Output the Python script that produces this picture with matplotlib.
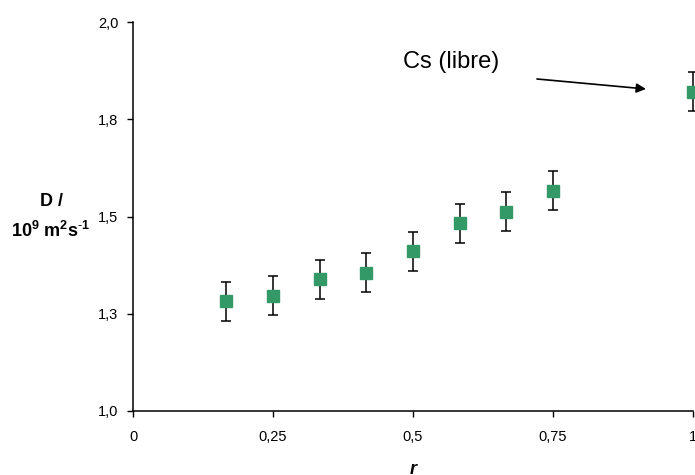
import matplotlib
matplotlib.use("Agg")
import matplotlib.pyplot as plt

plt.rcParams['font.family'] = ['Liberation Sans', 'DejaVu Sans']
plt.rcParams['mathtext.fontset'] = 'custom'
plt.rcParams['mathtext.rm'] = 'Liberation Sans'
plt.rcParams['mathtext.bf'] = 'Liberation Sans:bold'
plt.rcParams['mathtext.it'] = 'Liberation Sans:italic'

# Data
r_values = [1/6, 0.25, 1/3, 5/12, 0.5, 7/12, 2/3, 0.75, 1.0]
D_values = [1.282, 1.296, 1.339, 1.356, 1.411, 1.483, 1.512, 1.566, 1.821]
D_errors = [0.05, 0.05, 0.05, 0.05, 0.05, 0.05, 0.05, 0.05, 0.05]

x_ticks = [0, 0.25, 0.5, 0.75, 1.0]
x_ticklabels = ["0", "0,25", "0,5", "0,75", "1"]
y_ticks = [1.0, 1.25, 1.5, 1.75, 2.0]
y_ticklabels = ["1,0", "1,3", "1,5", "1,8", "2,0"]

fig = plt.figure(figsize=(6.95, 4.75), dpi=100)
ax = fig.add_axes([133/695, 64/475, 560/695, 389/475])

ax.errorbar(r_values, D_values, yerr=D_errors, fmt='none', ecolor='black',
            elinewidth=1.1, capsize=3.6, capthick=1.1, clip_on=False, zorder=2)
ax.plot(r_values, D_values, linestyle='none', marker='s', markersize=9.2,
        color='#339966', markeredgecolor='#339966', clip_on=False, zorder=3)

ax.set_xlim(0, 1)
ax.set_ylim(1.0, 2.0)
ax.set_xticks(x_ticks)
ax.set_xticklabels(x_ticklabels, fontsize=10.5)
ax.set_yticks(y_ticks)
ax.set_yticklabels(y_ticklabels, fontsize=10.5)
ax.tick_params(axis='both', direction='out', length=4.5, width=1, colors='black')
ax.tick_params(axis='x', pad=9)
ax.tick_params(axis='y', pad=6)

for s in ['top', 'right']:
    ax.spines[s].set_visible(False)
for s in ['left', 'bottom']:
    ax.spines[s].set_linewidth(1.1)

ax.set_xlabel("r", fontsize=13, fontweight='bold', fontstyle='italic')
ax.xaxis.set_label_coords(0.5, -0.128)

fig.text(51/695, 1 - 217/475, "D /\n" + r"$\mathbf{10^9\ m^2s^{\text{-}1}}$",
         ha='center', va='center', fontsize=13, fontweight='bold', linespacing=1.65)

ax.text(0.482, 1.897, "Cs (libre)", fontsize=17, ha='left', va='center')
ax.annotate("", xy=(0.916, 1.8278), xytext=(0.7214, 1.8535),
            arrowprops=dict(arrowstyle='-|>', color='black', lw=1.2,
                            mutation_scale=14, shrinkA=0, shrinkB=0))

fig.savefig("out.png", dpi=100)
